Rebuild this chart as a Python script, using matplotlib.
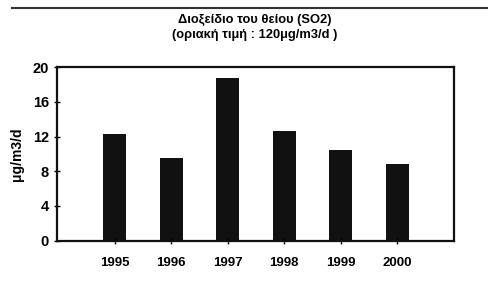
import matplotlib
matplotlib.use("Agg")
from matplotlib import pyplot as plt
from matplotlib.lines import Line2D

years = ['1995', '1996', '1997', '1998', '1999', '2000']
so2 = [12.3, 9.5, 18.8, 12.6, 10.5, 8.85]
yticks = [0, 4, 8, 12, 16, 20]

plt.rcParams['font.family'] = ['Liberation Sans', 'DejaVu Sans']
plt.rcParams['font.weight'] = 'bold'

fig = plt.figure(figsize=(4.88, 2.81), dpi=100)
ax = fig.add_axes([0.117, 0.144, 0.813, 0.617])

ax.bar(range(len(years)), so2, width=0.41, color='#111111')
ax.set_xlim(-1.02, 6.0)
ax.set_ylim(0, 20)
ax.set_yticks(yticks)
ax.set_xticks(range(len(years)))
ax.set_xticklabels(years)
ax.tick_params(axis='both', direction='inout', length=4, width=1)
ax.tick_params(axis='y', labelsize=10.5, pad=4)
ax.tick_params(axis='x', labelsize=9.5, pad=10)
for s in ax.spines.values():
    s.set_linewidth(1.6)
    s.set_color('#111111')

ax.set_ylabel('μg/m3/d', fontsize=10, fontweight='bold', labelpad=6)
fig.text(0.522, 0.93, 'Διοξείδιο του θείου (SO2)', ha='center', va='center', fontsize=9.3, fontweight='bold')
fig.text(0.522, 0.875, '(οριακή τιμή : 120μg/m3/d )', ha='center', va='center', fontsize=9.3, fontweight='bold')

fig.add_artist(Line2D([0.025, 1.0], [0.972, 0.972], transform=fig.transFigure, color='#333333', lw=1.5))

fig.savefig('out.png', dpi=100)
